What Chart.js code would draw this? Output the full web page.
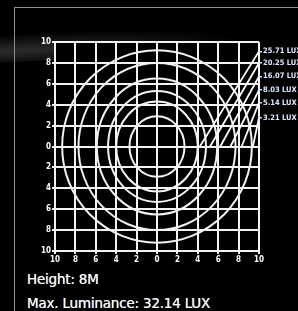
<!DOCTYPE html>
<html>
<head>
<meta charset="utf-8">
<script src="https://cdn.jsdelivr.net/npm/chart.js@4.4.0/dist/chart.umd.min.js"></script>
<style>
  html, body { margin: 0; padding: 0; background: #000; width: 298px; height: 311px; overflow: hidden; }
  #wrap { position: relative; width: 298px; height: 311px; }
  .streak { position: absolute; left: -60px; top: 30px; width: 300px; height: 28px;
    background: radial-gradient(ellipse at 25% 60%, rgba(200,200,200,0.22), rgba(200,200,200,0) 70%);
    transform: rotate(-3deg); }
  .frame { position: absolute; left: 14px; top: 7px; width: 300px; height: 320px;
    border-left: 1px solid #8c8c8c; border-top: 1px solid #8c8c8c; }
  canvas { position: absolute; left: 0; top: 0; }
  .info { position: absolute; left: 27px; color: #fff; font-family: "DejaVu Sans", sans-serif;
    font-size: 13.5px; letter-spacing: -0.2px; text-shadow: -0.6px 0 rgba(90,150,255,0.7), 0.6px 0 rgba(255,170,80,0.6); }
</style>
</head>
<body>
<div id="wrap">
  <div class="streak"></div>
  <div class="frame"></div>
  <canvas id="chart" width="298" height="311"></canvas>
  <div class="info" style="top:271px">Height: 8M</div>
  <div class="info" style="top:295px">Max. Luminance: 32.14 LUX</div>
</div>
<script>
// isolux circles (outer -> inner), radii in metres
const circleRx = [9.3, 7.7, 5.9, 4.8, 4.0, 2.7];
const circleRy = [9.2, 8.0, 6.5, 5.3, 4.3, 2.9];

// labels on the right and where their leader lines go
const luxLabels = ['25.71 LUX', '20.25 LUX', '16.07 LUX', '8.03 LUX', '5.14 LUX', '3.21 LUX'];
const labelY = [9.1, 8.0, 6.7, 5.4, 4.2, 2.75];
const leaderEndX = [4.2, 5.2, 6.2, 7.2, 8.3, 9.4];
const leaderEndY = [0, 0, 0, 0, 0, 0];

const axisMin = -10;
const axisMax = 10;
const axisStep = 2;

// leader lines from the label edge down to the circles
const leaderSets = labelY.map((y, i) => ({
    data: [{ x: axisMax, y: y }, { x: leaderEndX[i], y: leaderEndY[i] }],
    showLine: true,
    borderColor: '#ffffff',
    borderWidth: 1.8,
    pointRadius: 0,
    yAxisID: 'y'
}));

// black plot background
const plotBg = {
    id: 'plotBg',
    beforeDraw(chart) {
        const { ctx, chartArea: a } = chart;
        ctx.save();
        ctx.fillStyle = '#000';
        ctx.fillRect(a.left, a.top, a.right - a.left, a.bottom - a.top);
        ctx.restore();
    }
};

// circles drawn through the scales
const circles = {
    id: 'circles',
    beforeDatasetsDraw(chart) {
        const { ctx, chartArea: a, scales } = chart;
        const cx = scales.x.getPixelForValue(0);
        const cy = scales.y.getPixelForValue(0);
        ctx.save();
        ctx.beginPath();
        ctx.rect(a.left, a.top, a.right - a.left, a.bottom - a.top);
        ctx.clip();
        ctx.strokeStyle = '#f2f2f2';
        ctx.lineWidth = 2;
        circleRx.forEach((rx, i) => {
            const px = scales.x.getPixelForValue(rx) - cx;
            const py = cy - scales.y.getPixelForValue(circleRy[i]);
            ctx.beginPath();
            ctx.ellipse(cx, cy, px, py, 0, 0, Math.PI * 2);
            ctx.stroke();
        });
        ctx.restore();
    }
};

const tickFont = { family: 'DejaVu Sans Condensed', size: 8, weight: 'bold' };

new Chart(document.getElementById('chart'), {
    type: 'scatter',
    data: { datasets: leaderSets },
    options: {
        responsive: false,
        animation: false,
        layout: { padding: { top: 42, left: 0, right: 0, bottom: 0 } },
        plugins: { legend: { display: false }, tooltip: { enabled: false } },
        scales: {
            x: {
                min: axisMin, max: axisMax,
                ticks: { stepSize: axisStep, color: '#fff', font: tickFont, padding: 1,
                    maxRotation: 0, callback: v => Math.abs(v) },
                grid: { color: '#f2f2f2', lineWidth: 2, tickLength: 3 },
                border: { display: false },
                afterFit: s => { s.height = 60; }
            },
            y: {
                min: axisMin, max: axisMax,
                ticks: { stepSize: axisStep, color: '#fff', font: tickFont, padding: 1,
                    callback: v => Math.abs(v) },
                grid: { color: '#f2f2f2', lineWidth: 2, tickLength: 3 },
                border: { display: false },
                afterFit: s => { s.width = 55; }
            },
            yR: {
                position: 'right',
                min: axisMin, max: axisMax,
                afterBuildTicks: s => { s.ticks = labelY.map(v => ({ value: v })); },
                ticks: { color: '#dce8ff', font: { family: 'DejaVu Sans Condensed', size: 7.5, weight: 'bold' },
                    padding: 1, autoSkip: false,
                    callback: (v, i) => luxLabels[i] },
                grid: { drawOnChartArea: false, color: '#cfe0ff', lineWidth: 1.5, tickLength: 3 },
                border: { display: false },
                afterFit: s => { s.width = 39; }
            }
        }
    },
    plugins: [plotBg, circles]
});
</script>
</body>
</html>
